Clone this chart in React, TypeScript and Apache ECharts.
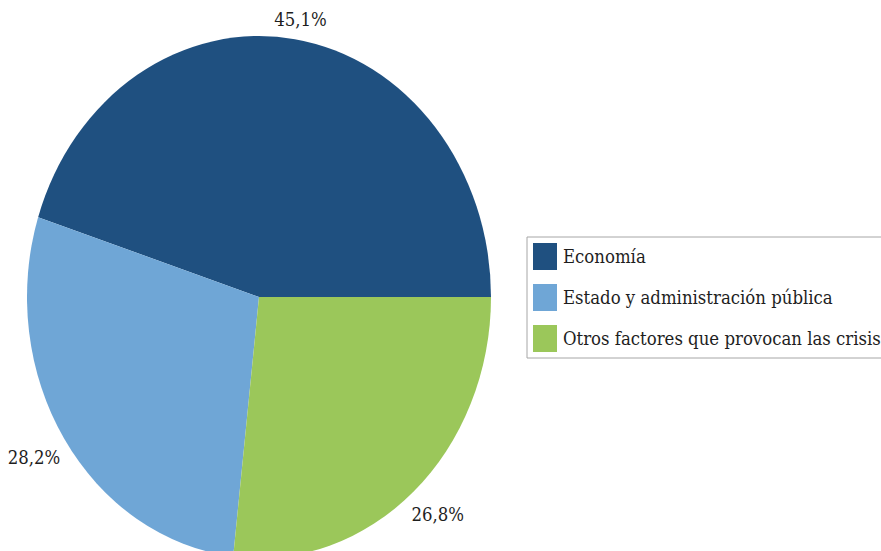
import React, { useEffect, useRef } from "react";
import * as echarts from "echarts";

const categories = ["Economía", "Estado y administración pública", "Otros factores que provocan las crisis"];
const values = [45.1, 28.2, 26.8];
const colors = ["#1F5080", "#6FA6D6", "#9BC75A"];

const CX = 259;
const CY = 297;
const RX = 232;
const RY = 261;
const FONT = '"DejaVu Serif Condensed", "Liberation Serif", serif';
const FONT_SIZE = 18.4;
const TEXT_COLOR = "#1E1E1E";

function fmt(v: number) {
  return v.toFixed(1).replace(".", ",") + "%";
}

export default function App() {
  const ref = useRef<HTMLDivElement>(null);
  useEffect(() => {
    if (!ref.current) return;
    const chart = echarts.init(ref.current, null, { renderer: "svg" });
    const total = values.reduce((a, b) => a + b, 0);
    const series = categories.map((name, i) => ({
      type: "custom",
      name,
      coordinateSystem: "none",
      itemStyle: { color: colors[i] },
      silent: true,
      data: [[values[i]]],
      renderItem: (params: any, api: any) => {
        const v = api.value(0) as number;
        const before = values.slice(0, i).reduce((a, b) => a + b, 0);
        const a0 = (before / total) * Math.PI * 2;
        const a1 = a0 + (v / total) * Math.PI * 2;
        const mid = (a0 + a1) / 2;
        const c = Math.cos(mid);
        const s = Math.sin(mid);
        const gap = 8;
        const hw = 28;
        const hh = 12;
        const lx = CX + (RX + gap) * c + hw * c;
        const ly = CY - (RY + gap) * s - hh * s + (s < 0 ? 8 : 0);
        return {
          type: "group",
          children: [
            {
              type: "sector",
              x: CX,
              y: CY,
              scaleY: RY / RX,
              shape: { cx: 0, cy: 0, r: RX, r0: 0, startAngle: -a1, endAngle: -a0, clockwise: true },
              style: { fill: colors[i] },
            },
            {
              type: "text",
              x: lx,
              y: ly,
              style: {
                text: fmt(v),
                fill: TEXT_COLOR,
                fontSize: FONT_SIZE,
                fontFamily: FONT,
                align: "center",
                verticalAlign: "middle",
              },
            },
          ],
        };
      },
    }));
    chart.setOption({
      animation: false,
      color: colors,
      legend: {
        orient: "vertical",
        left: 527,
        top: 237,
        data: categories,
        icon: "rect",
        itemWidth: 24,
        itemHeight: 27,
        itemGap: 14,
        padding: [6, 12, 6, 6],
        borderColor: "#A6A6A6",
        borderWidth: 1,
        selectedMode: false,
        textStyle: { fontSize: FONT_SIZE, fontFamily: FONT, color: TEXT_COLOR, padding: [0, 0, 0, 1] },
      },
      series,
    } as any);
    return () => chart.dispose();
  }, []);
  return (
    <div
      ref={ref}
      style={{ position: "fixed", left: 0, top: 0, width: 881, height: 551, background: "#ffffff" }}
    />
  );
}
